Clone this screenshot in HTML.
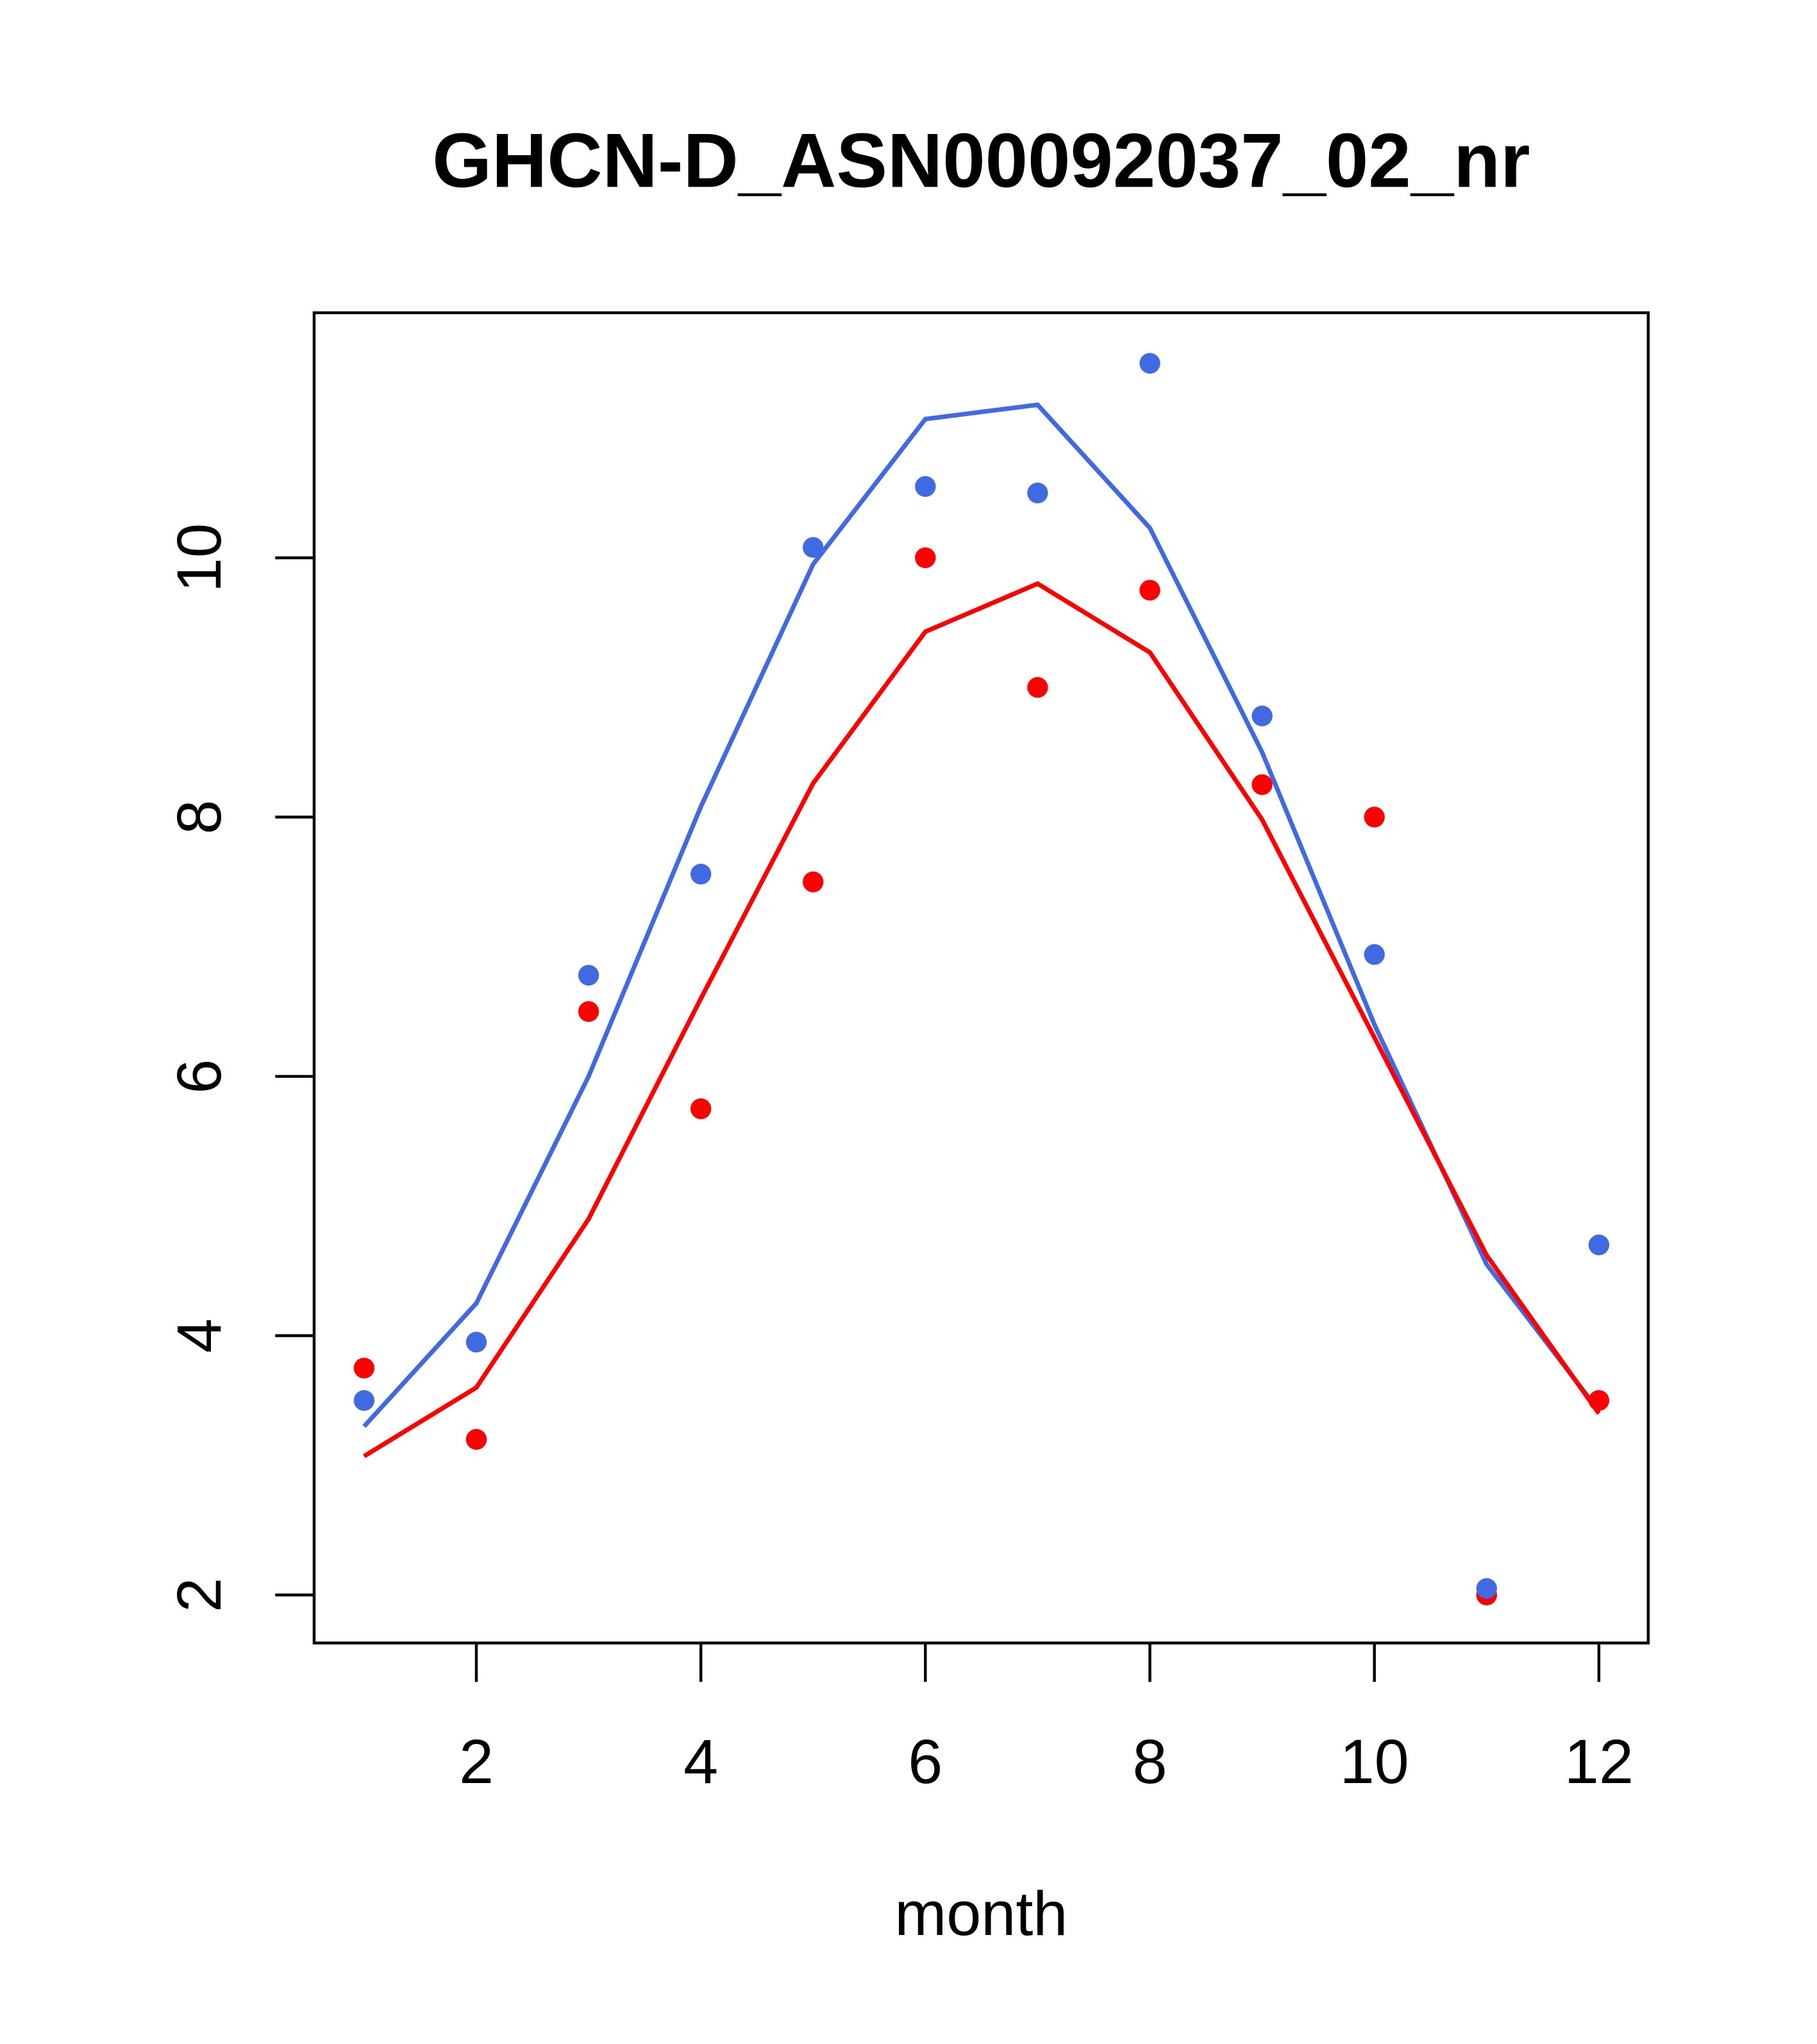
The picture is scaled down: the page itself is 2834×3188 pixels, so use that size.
<!DOCTYPE html>
<html><head><meta charset="utf-8"><style>
html,body{margin:0;padding:0;background:#fff;}
svg{display:block;font-family:"Liberation Sans",sans-serif;}
</style></head><body>
<svg id="chart" width="2834" height="3188" viewBox="0 0 1400 1575" xmlns="http://www.w3.org/2000/svg">
<rect width="1400" height="1575" fill="#fff"/>
<text x="756" y="144" text-anchor="middle" font-size="59" font-weight="bold">GHCN-D_ASN00092037_02_nr</text>
<rect x="242" y="241" width="1028" height="1025" fill="none" stroke="#000" stroke-width="2.2"/>
<text x="756" y="1491" text-anchor="middle" font-size="48">month</text>
<g id="axes"></g>
<g id="marks"></g>
</svg>
<script>
const months=[1,2,3,4,5,6,7,8,9,10,11,12];
const redPoints=[3.75,3.2,6.5,5.75,7.5,10,9,9.75,8.25,8,2,3.5];
const bluePoints=[3.5,3.95,6.78,7.56,10.08,10.55,10.5,11.5,8.78,6.94,2.05,4.7];
const redLine=[3.07,3.6,4.9,6.6,8.26,9.43,9.8,9.27,7.98,6.3,4.62,3.4];
const blueLine=[3.3,4.25,6.0,8.08,9.95,11.07,11.18,10.23,8.5,6.4,4.55,3.42];
const xTicks=[2,4,6,8,10,12];
const yTicks=[2,4,6,8,10];
const NS="http://www.w3.org/2000/svg";
function xs(v){return 367+(v-2)*86.5;}
function ys(v){return 1229-(v-2)*99.9;}
const axes=document.getElementById('axes');
const marks=document.getElementById('marks');
function mk(tag,attrs,parent){const e=document.createElementNS(NS,tag);for(const k in attrs)e.setAttribute(k,attrs[k]);parent.appendChild(e);return e;}
xTicks.forEach(t=>{
  const l=mk('line',{x1:xs(t),x2:xs(t),y1:1266,y2:1296,stroke:'#000','stroke-width':2.2},axes);
  
  
  const tx=mk('text',{x:xs(t),y:1374,'text-anchor':'middle','font-size':48},axes);
  tx.textContent=t;
  
  
});
yTicks.forEach(t=>{
  const l=mk('line',{x1:212,x2:242,y1:ys(t),y2:ys(t),stroke:'#000','stroke-width':2.2},axes);
  
  
  const tx=mk('text',{x:0,y:0,'text-anchor':'middle','font-size':48,transform:`translate(170,${ys(t)}) rotate(-90)`},axes);
  tx.textContent=t;
  
  
});
function line(vals,color,name){
  const p=mk('polyline',{points:vals.map((v,i)=>xs(months[i])+','+ys(v)).join(' '),fill:'none',stroke:color,'stroke-width':3.5},marks);
  
  
}
function pts(vals,color,name){
  vals.forEach((v,i)=>{
    const c=mk('circle',{cx:xs(months[i]),cy:ys(v),r:8,fill:color},marks);
    
    
  });
}
line(blueLine,'#4169E1','blue-fit-line');
line(redLine,'#FF0000','red-fit-line');
pts(redPoints,'#FF0000','red-point');
pts(bluePoints,'#4169E1','blue-point');
</script>
</body></html>
